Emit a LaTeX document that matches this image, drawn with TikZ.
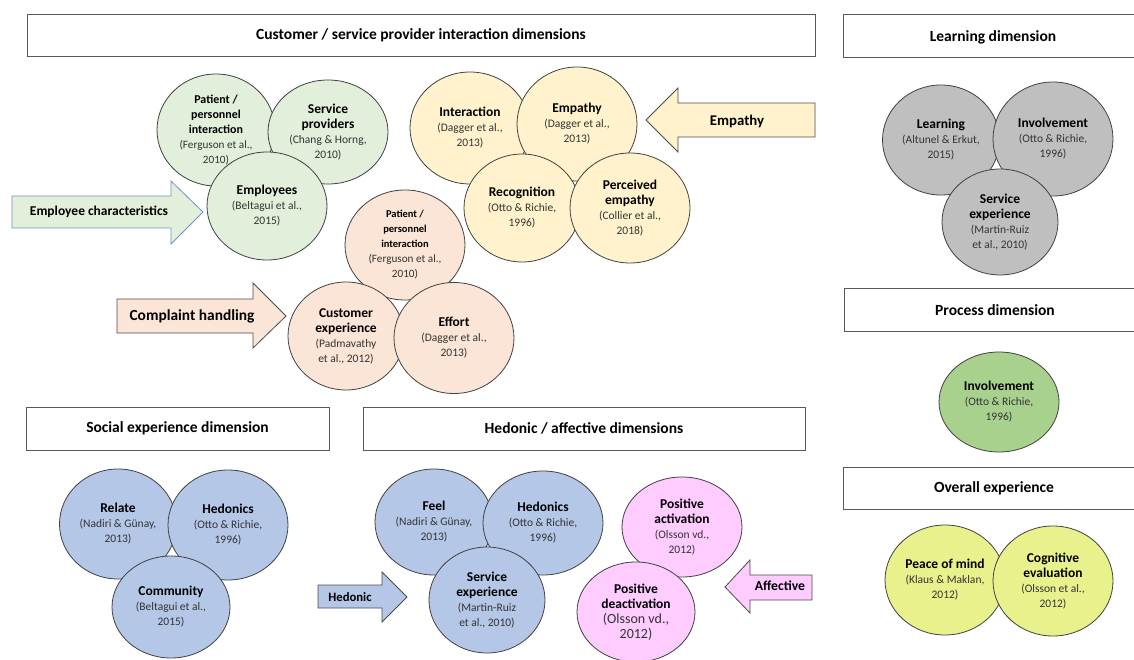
\documentclass[tikz,border=0pt]{standalone}
\usepackage{fontspec}
\setmainfont{Carlito}
\usetikzlibrary{shapes.geometric}
\definecolor{cgreen}{HTML}{E2EFDA}
\definecolor{cyellow}{HTML}{FFF2CC}
\definecolor{cpeach}{HTML}{FBE5D6}
\definecolor{cgray}{HTML}{BFBFBF}
\definecolor{cpgreen}{HTML}{A9D18E}
\definecolor{clime}{HTML}{E9F18D}
\definecolor{cblue}{HTML}{B4C7E7}
\definecolor{cpink}{HTML}{FFCCFF}
\definecolor{arrblue}{HTML}{6F93C6}
\newcommand{\tb}[1]{{\fontsize{13.5}{15}\selectfont\bfseries #1}}
\newcommand{\ts}[1]{{\fontsize{12}{13.5}\selectfont\bfseries #1}}
\newcommand{\tss}[1]{{\fontsize{10.5}{13}\selectfont\bfseries #1}}
\newcommand{\ct}[1]{{\fontsize{11.5}{15}\selectfont\color{black!80}#1}}
\newcommand{\cs}[1]{{\fontsize{11.2}{13.5}\selectfont\color{black!80}#1}}
\newcommand{\cl}[1]{{\fontsize{14}{16}\selectfont\color{black!80}#1}}
\tikzset{
  circ/.style={ellipse, draw=black!75, line width=0.8pt, inner sep=0pt, align=center, text=black,
    font=\fontsize{11.5}{15}\selectfont},
  wh/.style 2 args={minimum width=#1pt, minimum height=#2pt},
  hdr/.style={draw=black!65, fill=white, line width=0.8pt, inner sep=0pt,
    font=\fontsize{15.5}{17}\selectfont\bfseries},
  htxt/.style={font=\fontsize{15.5}{17}\selectfont\bfseries, inner sep=0pt},
  blk/.style={draw=black!70, line width=0.8pt},
  atxt/.style={inner sep=0pt}
}
\begin{document}
\begin{tikzpicture}[x=1pt,y=-1pt]
\useasboundingbox[fill=white] (0,0) rectangle (1134,660);

% ---------- headers ----------
\node[hdr, wh={788}{42}] (h1) at (421,35) {Customer / service provider interaction dimensions};
\node[hdr, wh={303}{43}] (h2) at (177.5,428.5) {Social experience dimension};
\node[hdr, wh={442}{43}] (h3) at (584,428.5) {Hedonic / affective dimensions};
\draw[draw=black!65, line width=0.8pt] (1134,14) -| (843,57) -- (1134,57);
\node[htxt] (h4) at (993,37) {Learning dimension};
\draw[draw=black!65, line width=0.8pt] (1134,288) -| (844,331) -- (1134,331);
\node[htxt] (h5) at (995,310) {Process dimension};
\draw[draw=black!65, line width=0.8pt] (1134,467) -| (843,509) -- (1134,509);
\node[htxt] (h6) at (994,488) {Overall experience};

% ---------- green group ----------
\node[circ, fill=cgreen, wh={118}{112}] (g1) at (216,130) {\ts{Patient /}\\\ts{personnel}\\\ts{interaction}\\\cs{(Ferguson et al.,}\\\cs{2010)}};
\node[circ, fill=cgreen, wh={120}{104}] (g2) at (328,132) {\tb{Service}\\\tb{providers}\\\ct{(Chang \& Horng,}\\\ct{2010)}};
\node[circ, fill=cgreen, wh={120}{108}] (g3) at (267,206) {\tb{Employees}\\\ct{(Beltagui et al.,}\\\ct{2015)}};

\draw[fill=cgreen, draw=arrblue, line width=0.8pt] (12,196) -- (171,196) -- (171,181) -- (203,212) -- (171,244) -- (171,228) -- (12,228) -- cycle;
\node[atxt, font=\fontsize{13.5}{15}\selectfont\bfseries] (a1) at (99,212) {Employee characteristics};

% ---------- yellow group ----------
\node[circ, fill=cyellow, wh={120}{112}] (y1) at (470,128) {\tb{Interaction}\\\ct{(Dagger et al.,}\\\ct{2013)}};
\node[circ, fill=cyellow, wh={120}{114}] (y2) at (577,124) {\tb{Empathy}\\\ct{(Dagger et al.,}\\\ct{2013)}};
\node[circ, fill=cyellow, wh={116}{108}] (y3) at (522,208) {\tb{Recognition}\\\ct{(Otto \& Richie,}\\\ct{1996)}};
\node[circ, fill=cyellow, wh={120}{110}] (y4) at (630,208) {\tb{Perceived}\\\tb{empathy}\\\ct{(Collier et al.,}\\\ct{2018)}};

\draw[blk, fill=cyellow] (646,120) -- (678,88) -- (678,103) -- (815,103) -- (815,137) -- (678,137) -- (678,152) -- cycle;
\node[atxt, font=\fontsize{14.8}{16}\selectfont\bfseries] (a2) at (737,121) {Empathy};

% ---------- peach group ----------
\node[circ, fill=cpeach, wh={120}{110}] (p1) at (405,245) {\tss{Patient /}\\\tss{personnel}\\\tss{interaction}\\\cs{(Ferguson et al.,}\\\cs{2010)}};
\node[circ, fill=cpeach, wh={116}{108}] (p2) at (346,336) {\tb{Customer}\\\tb{experience}\\\ct{(Padmavathy}\\\ct{et al., 2012)}};
\node[circ, fill=cpeach, wh={120}{111}] (p3) at (454,338) {\tb{Effort}\\\ct{(Dagger et al.,}\\\ct{2013)}};

\draw[blk, fill=cpeach] (117,299) -- (253,299) -- (253,283) -- (286,316) -- (253,348) -- (253,333) -- (117,333) -- cycle;
\node[atxt, font=\fontsize{15.4}{17}\selectfont\bfseries] (a3) at (192,316) {Complaint handling};

% ---------- learning ----------
\node[circ, fill=cgray, wh={117}{110}] (l1) at (941,140) {\tb{Learning}\\\ct{(Altunel \& Erkut,}\\\ct{2015)}};
\node[circ, fill=cgray, wh={120}{114}] (l2) at (1053,139) {\tb{Involvement}\\\ct{(Otto \& Richie,}\\\ct{1996)}};
\node[circ, fill=cgray, wh={116}{106}] (l3) at (1000,222) {\tb{Service}\\\tb{experience}\\\ct{(Martin-Ruiz}\\\ct{et al., 2010)}};

% ---------- process ----------
\node[circ, fill=cpgreen, wh={120}{100}] (pr1) at (999,402) {\tb{Involvement}\\\ct{(Otto \& Richie,}\\\ct{1996)}};

% ---------- overall ----------
\node[circ, fill=clime, wh={120}{110}] (o1) at (945,580) {\tb{Peace of mind}\\\ct{(Klaus \& Maklan,}\\\ct{2012)}};
\node[circ, fill=clime, wh={120}{110}] (o2) at (1053,581) {\tb{Cognitive}\\\tb{evaluation}\\\ct{(Olsson et al.,}\\\ct{2012)}};

% ---------- social ----------
\node[circ, fill=cblue, wh={117}{110}] (s1) at (118,524) {\tb{Relate}\\\ct{(Nadiri \& Günay,}\\\ct{2013)}};
\node[circ, fill=cblue, wh={120}{110}] (s2) at (228,525) {\tb{Hedonics}\\\ct{(Otto \& Richie,}\\\ct{1996)}};
\node[circ, fill=cblue, wh={118}{102}] (s3) at (171,607) {\tb{Community}\\\ct{(Beltagui et al.,}\\\ct{2015)}};

% ---------- hedonic ----------
\node[circ, fill=cblue, wh={118}{106}] (e1) at (434,522) {\tb{Feel}\\\ct{(Nadiri \& Günay,}\\\ct{2013)}};
\node[circ, fill=cblue, wh={120}{104}] (e2) at (543,523) {\tb{Hedonics}\\\ct{(Otto \& Richie,}\\\ct{1996)}};
\node[circ, fill=cblue, wh={116}{106}] (e3) at (487,600) {\tb{Service}\\\tb{experience}\\\ct{(Martin-Ruiz}\\\ct{et al., 2010)}};

\node[circ, fill=cpink, wh={120}{100}] (k1) at (682,527) {\tb{Positive}\\\tb{activation}\\\ct{(Olsson vd.,}\\\ct{2012)}};
\node[circ, fill=cpink, wh={118}{100}] (k2) at (636,612) {\tb{Positive}\\\tb{deactivation}\\\cl{(Olsson vd.,}\\\cl{2012)}};

\draw[blk, fill=cblue] (318,585) -- (382,585) -- (382,572) -- (407,597) -- (382,622) -- (382,608) -- (318,608) -- cycle;
\node[atxt, font=\fontsize{12.7}{14}\selectfont\bfseries] (a4) at (350,597) {Hedonic};

\draw[blk, fill=cpink] (725,587) -- (750,560) -- (750,575) -- (812,575) -- (812,600) -- (750,600) -- (750,613) -- cycle;
\node[atxt, font=\fontsize{13.7}{15}\selectfont\bfseries] (a5) at (780,586) {Affective};
\end{tikzpicture}
\end{document}
